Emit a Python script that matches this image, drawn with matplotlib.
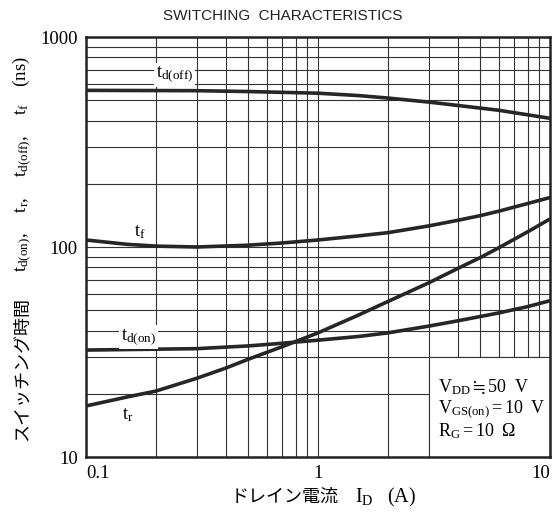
import matplotlib
matplotlib.use("Agg")
import matplotlib.pyplot as plt
from matplotlib.patches import Rectangle
from matplotlib.ticker import NullFormatter, LogLocator
from matplotlib import font_manager

plt.rcParams['mathtext.fontset'] = 'custom'
plt.rcParams['mathtext.rm'] = 'Liberation Serif'
plt.rcParams['mathtext.it'] = 'Liberation Serif:italic'
plt.rcParams['mathtext.bf'] = 'Liberation Serif:bold'
plt.rcParams['mathtext.fallback'] = 'stix'

# ---- data ----
x_doff = [0.1, 0.3, 0.5, 1, 1.5, 2, 3, 4.5, 6, 10]
t_doff = [557, 555, 550, 540, 526, 512, 490, 465, 448, 410]

x_f = [0.1, 0.15, 0.2, 0.3, 0.5, 0.7, 1, 1.5, 2, 3, 4, 5, 6, 8, 10]
t_f = [108, 103, 101, 100, 102, 104.5, 108, 113, 117, 126, 134, 141, 148, 161, 172]

x_don = [0.1, 0.3, 0.5, 0.7, 1, 1.5, 2, 3, 4, 6, 8, 10]
t_don = [32.3, 32.8, 33.8, 34.8, 36, 37.5, 39, 42, 44.5, 48.5, 52, 55.5]

x_r = [0.1, 0.15, 0.2, 0.3, 0.4, 0.5, 0.7, 1, 1.5, 2, 3, 4, 5, 6, 8, 10]
t_r = [17.5, 19.3, 20.6, 23.7, 26.5, 29.2, 33.5, 39, 47.5, 55, 67.5, 79, 89, 99, 118, 136]

xticks = [0.1, 1, 10]
xticklabels = ['0.1', '1', '10']
yticks = [10, 100, 1000]
yticklabels = ['10', '100', '1000']

W, H = 556, 518
fig = plt.figure(figsize=(W / 100, H / 100), dpi=100)
L, R, T, B = 86, 550, 37, 457
ax = fig.add_axes([L / W, 1 - B / H, (R - L) / W, (B - T) / H])
ax.set_xscale('log')
ax.set_yscale('log')
ax.set_xlim(0.1, 10)
ax.set_ylim(10, 1000)

ax.xaxis.set_minor_locator(LogLocator(base=10, subs=range(2, 10)))
ax.yaxis.set_minor_locator(LogLocator(base=10, subs=range(2, 10)))
ax.xaxis.set_minor_formatter(NullFormatter())
ax.yaxis.set_minor_formatter(NullFormatter())
ax.grid(which='both', color='#333333', lw=0.8)
ax.tick_params(which='both', length=0)
ax.set_xticks(xticks)
ax.set_xticklabels(xticklabels, family='Liberation Serif', fontsize=13.5)
ax.set_yticks(yticks)
ax.set_yticklabels(yticklabels, family='Liberation Serif', fontsize=13.5)
ax.tick_params(axis='x', pad=6)
ax.tick_params(axis='y', pad=6)
xl = ax.get_xticklabels()
xl[0].set_ha('left')
xl[-1].set_ha('right')
for s in ax.spines.values():
    s.set_linewidth(1.8)
    s.set_color('#222222')

# white box for conditions
ax.add_patch(Rectangle((3, 10), 7, 20, facecolor='white', edgecolor='#333333',
                       lw=0.8, zorder=1.9))

lc = '#262626'
lw = 2.6
ax.plot(x_doff, t_doff, color=lc, lw=lw, zorder=3, solid_capstyle='butt')
ax.plot(x_f, t_f, color=lc, lw=lw, zorder=3, solid_capstyle='butt')
ax.plot(x_don, t_don, color=lc, lw=lw, zorder=3, solid_capstyle='butt')
ax.plot(x_r, t_r, color=lc, lw=lw, zorder=3, solid_capstyle='butt')

bb = dict(facecolor='white', edgecolor='none', pad=1.5)
ax.text(0.2, 662, r'$\mathrm{t_{d(off)}}$', fontsize=13.5, ha='left', va='center',
        bbox=bb, zorder=4)
ax.text(0.161, 119, r'$\mathrm{t_f}$', fontsize=13.5, ha='left', va='center',
        bbox=bb, zorder=4)
ax.text(0.141, 37.2, r'$\mathrm{t_{d(on)}}$', fontsize=13.5, ha='left', va='center',
        bbox=bb, zorder=4)
ax.text(0.143, 16.0, r'$\mathrm{t_r}$', fontsize=13.5, ha='left', va='center',
        zorder=4)

# conditions
ax.text(3.3, 21.6, r'$\mathrm{V_{DD}\fallingdotseq 50\ \ V}$', fontsize=13, ha='left',
        va='center', zorder=4)
ax.text(3.3, 16.9, r'$\mathrm{V_{GS(on)}=10\ \ V}$', fontsize=13, ha='left',
        va='center', zorder=4)
ax.text(3.3, 13.3, r'$\mathrm{R_G=10\ \ \Omega}$', fontsize=13, ha='left',
        va='center', zorder=4)

# title
names = {f.name for f in font_manager.fontManager.ttflist}
if 'Liberation Sans Narrow' in names:
    tfam, tsize = 'Liberation Sans Narrow', 13
else:
    tfam, tsize = 'Liberation Sans', 11
fig.text(283 / W, 1 - 16 / H, 'SWITCHING  CHARACTERISTICS', ha='center', va='center',
         family=tfam, fontsize=tsize, color='#222222')

# x label
fig.text(339 / W, 1 - 497 / H, 'ドレイン電流', ha='right', va='center',
         family='Noto Sans CJK JP', fontsize=13)
fig.text(355 / W, 1 - 497 / H, r'$\mathrm{I_D\ \ \ (A)}$', ha='left', va='center',
         fontsize=14.5)

# y label
fig.text(22 / W, 1 - 441 / H, 'スイッチング時間', ha='center', va='bottom',
         rotation=90, family='Noto Sans CJK JP', fontsize=13)
fig.text(22 / W, 1 - 272 / H,
         r'$\mathrm{t_{d(on)},\ \ \ \ t_r,\ \ \ \ t_{d(off)},\ \ \ \ t_f\ \ \ \ (ns)}$',
         ha='center', va='bottom', rotation=90, fontsize=13.5)

fig.savefig('out.png', dpi=100)
